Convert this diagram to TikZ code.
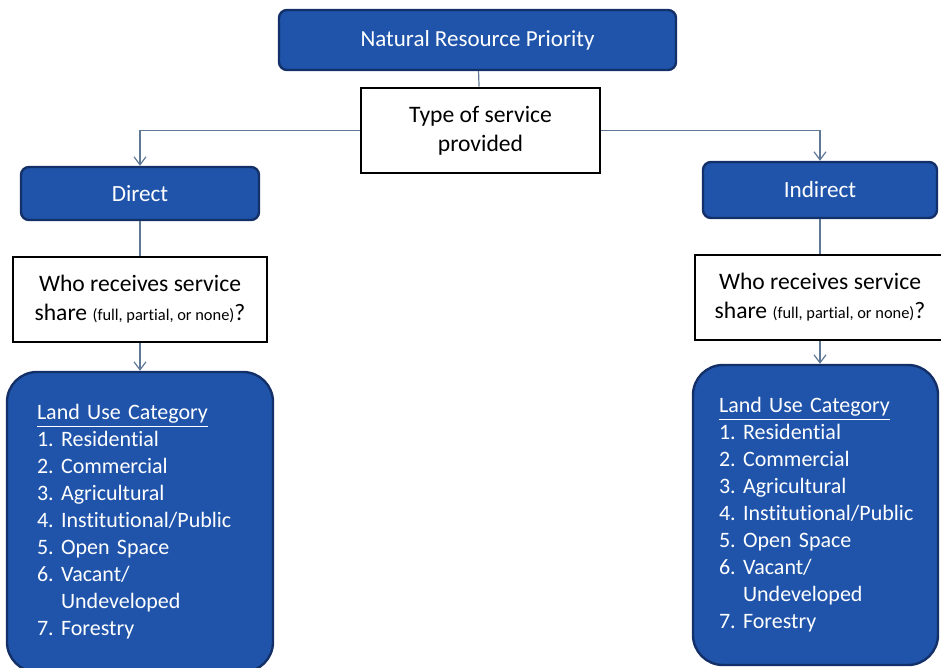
\documentclass[tikz,border=0pt]{standalone}
\usepackage{fontspec}
\setmainfont{Carlito}[Ligatures={NoCommon}]
\usetikzlibrary{arrows.meta}
\frenchspacing
\definecolor{boxblue}{RGB}{31,84,170}
\definecolor{boxedge}{RGB}{20,48,105}
\definecolor{linkgray}{RGB}{95,120,150}
\tikzstyle{bluebox}=[draw=boxedge, fill=boxblue, line width=1.2pt,
    rounded corners=4pt, text=white, inner sep=0pt]
\tikzstyle{question}=[draw=black, fill=white, line width=1.4pt,
    align=center, inner sep=0pt, font=\fontsize{11.8}{14.5}\selectfont]
\tikzstyle{landuse}=[bluebox, rounded corners=15pt, align=left,
    font=\fontsize{11}{13.5}\selectfont]
\tikzstyle{link}=[draw=linkgray, line width=0.6pt]
\newcommand{\landlist}{\underline{Land Use Category}\\
  1. Residential\\ 2. Commercial\\ 3. Agricultural\\
  \mbox{4. Institutional/Public}\\ 5. Open Space\\ 6. Vacant/\\
  \phantom{6. }Undeveloped\\ 7. Forestry}
\newcommand{\whotext}{Who receives service\\
  share {\fontsize{8.2}{10}\selectfont(full, partial, or none)}?}

\begin{document}
\begin{tikzpicture}[x=0.5pt, y=-0.5pt, >={Straight Barb[length=4pt,width=6pt]}]
  \useasboundingbox (0,0) rectangle (941,668);
  \clip (0,0) rectangle (941,668);

  % top of the tree
  \node[bluebox, minimum width=198.5pt, minimum height=30pt,
    font=\fontsize{11.5}{13}\selectfont] at (477.5,40) (nrp) {Natural Resource Priority};
  \node[question, minimum width=119.5pt, minimum height=42.5pt] at (480.5,130.5) (type) {Type of service\\provided};

  % left branch
  \node[bluebox, minimum width=119pt, minimum height=26.5pt,
    font=\fontsize{11.6}{13}\selectfont] at (140,193.5) (direct) {Direct};
  \node[question, minimum width=127pt, minimum height=42.5pt] at (140,299.5) (whoL) {\whotext};
  \node[landuse, inner xsep=15pt, text width=103pt, minimum height=150pt] at (140,522) (landL) {\landlist};

  % right branch
  \node[bluebox, minimum width=117pt, minimum height=28pt,
    font=\fontsize{11.6}{13}\selectfont] at (820,190) (indirect) {Indirect};
  \node[question, minimum width=125pt, minimum height=42.5pt] at (820,297.5) (whoR) {\whotext};
  \node[landuse, inner xsep=13pt, text width=96.5pt, minimum height=150pt] at (815.5,515) (landR) {\landlist};

  \draw[link] (nrp) -- (type);
  \draw[link,->] (type.west) -| (direct.north);
  \draw[link,->] (type.east) -| (indirect.north);
  \draw[link] (direct) -- (whoL);
  \draw[link,->] (whoL) -- (landL);
  \draw[link] (indirect) -- (whoR);
  \draw[link,->] (whoR.south) -- (whoR.south |- landR.north);
\end{tikzpicture}
\end{document}
